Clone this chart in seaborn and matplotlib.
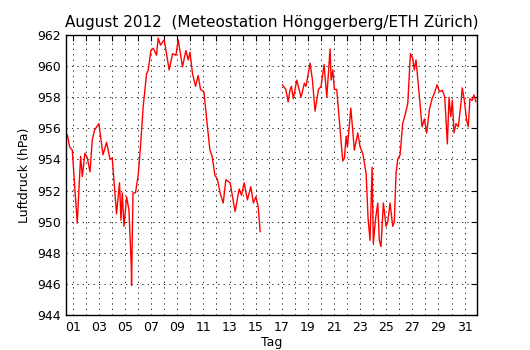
# -*- coding: utf-8 -*-
"""
Luftdruck August 2012, Meteostation Hönggerberg/ETH Zürich
"""

import numpy as np
import pandas as pd
import matplotlib
matplotlib.use("Agg")
import matplotlib.pyplot as plt
import seaborn as sns

# Daten (Tag als Bruchteil, Luftdruck in hPa)
tag_1 = [0.58, 0.76, 0.96, 1.34, 1.60, 1.73, 1.93, 2.11, 2.32, 2.49, 2.67, 3.00,
         3.31, 3.59, 3.85, 4.02, 4.35, 4.58, 4.69, 4.79, 4.92, 5.12, 5.30, 5.48,
         5.50, 5.61, 5.80, 6.01, 6.20, 6.39, 6.65, 6.78, 6.98, 7.16, 7.41, 7.54,
         7.72, 8.00, 8.38, 8.64, 8.90, 9.07, 9.40, 9.66, 9.84, 9.97, 10.17, 10.40,
         10.60, 10.78, 11.04, 11.31, 11.50, 11.67, 11.88, 12.08, 12.29, 12.52,
         12.72, 13.05, 13.23, 13.43, 13.74, 13.92, 14.12, 14.37, 14.63, 14.83,
         15.02, 15.19, 15.35]
druck_1 = [955.6, 954.8, 954.6, 949.9, 954.2, 952.9, 954.4, 954.1, 953.2, 955.25,
           955.9, 956.3, 954.3, 955.1, 954.0, 954.1, 950.5, 952.5, 950.1, 951.85,
           949.7, 951.6, 950.75, 947.1, 945.9, 951.85, 951.85, 953.0, 955.0, 957.4,
           959.5, 959.75, 961.0, 961.15, 960.7, 961.8, 961.35, 961.7, 959.75, 960.8,
           960.7, 961.7, 959.95, 961.0, 960.4, 960.9, 959.5, 958.7, 959.4, 958.5,
           958.35, 956.1, 954.6, 954.2, 953.0, 952.7, 951.8, 951.2, 952.7, 952.5,
           951.6, 950.65, 952.1, 951.7, 952.5, 951.4, 952.25, 951.2, 951.6, 951.0,
           949.35]

tag_2 = [17.05, 17.31, 17.49, 17.64, 17.74, 17.88, 18.15, 18.48, 18.73, 18.86,
         19.17, 19.35, 19.55, 19.81, 20.01, 20.24, 20.45, 20.57, 20.70, 20.78,
         20.91, 21.03, 21.21, 21.67, 21.80, 21.93, 22.03, 22.29, 22.56, 22.82,
         23.00, 23.20, 23.46, 23.61, 23.76, 23.92, 24.01, 24.17, 24.35, 24.47,
         24.60, 24.78, 24.99, 25.12, 25.29, 25.50, 25.62, 25.75, 25.88, 26.06,
         26.26, 26.44, 26.65, 26.85, 27.03, 27.15, 27.28, 27.53, 27.74, 27.92,
         28.10, 28.30, 28.51, 28.68, 28.89, 29.08, 29.30, 29.48, 29.68, 29.81,
         29.94, 30.06, 30.19, 30.34, 30.52, 30.72, 30.82, 30.98, 31.16, 31.28,
         31.41, 31.59, 31.72, 31.87]
druck_2 = [958.8, 958.5, 957.7, 958.5, 958.7, 957.9, 959.1, 958.0, 958.9, 958.7,
           960.2, 959.1, 957.1, 958.5, 958.7, 960.1, 958.0, 959.5, 961.1, 959.1,
           959.75, 958.5, 958.5, 953.9, 954.1, 955.5, 954.8, 957.3, 954.6, 955.7,
           954.8, 954.4, 953.1, 950.2, 948.8, 953.5, 948.6, 950.1, 951.2, 948.8,
           948.4, 951.2, 949.7, 950.0, 951.2, 949.7, 950.0, 953.1, 954.0, 954.3,
           956.3, 956.85, 957.6, 960.8, 960.5, 959.75, 960.4, 958.15, 956.1, 956.6,
           955.7, 957.2, 957.9, 958.25, 958.8, 958.35, 958.45, 958.0, 955.0, 958.0,
           956.75, 957.8, 955.7, 956.3, 956.1, 957.6, 958.6, 957.8, 956.5, 956.1,
           957.9, 957.8, 958.15, 957.7]

tage = list(range(1, 32))
tag_labels = [f"{d:02d}" if d % 2 == 1 else "" for d in tage]

df = pd.concat([
    pd.DataFrame({"Tag": tag_1, "Druck": druck_1, "Abschnitt": 1}),
    pd.DataFrame({"Tag": tag_2, "Druck": druck_2, "Abschnitt": 2}),
])

sns.set_style("white")
plt.rcParams["font.family"] = ["DejaVu Sans"]
plt.rcParams["text.color"] = "black"
plt.rcParams["axes.labelcolor"] = "black"
plt.rcParams["xtick.direction"] = "in"
plt.rcParams["ytick.direction"] = "in"

fig = plt.figure(figsize=(5.3, 3.5), dpi=100)
ax = fig.add_axes([0.125, 0.1, 0.775, 0.8])

sns.lineplot(data=df, x="Tag", y="Druck", units="Abschnitt", estimator=None,
             color="red", linewidth=1.0, ax=ax)

ax.set_xlim(0.5, 31.95)
ax.set_ylim(944, 962)
ax.set_xticks(tage)
ax.set_xticklabels(tag_labels)
ax.set_yticks(np.arange(944, 963, 2))
ax.tick_params(axis="both", which="both", direction="in", top=True, right=True,
               length=4, width=0.8, labelsize=9, colors="black", pad=4)
ax.grid(True, color="black", linestyle=(0, (1.5, 5)), linewidth=0.6)
for s in ax.spines.values():
    s.set_color("black")
    s.set_linewidth(1.0)

ax.set_xlabel("Tag", fontsize=9, labelpad=2, color="black")
ax.set_ylabel("Luftdruck (hPa)", fontsize=9, color="black")
ax.set_title("August 2012  (Meteostation Hönggerberg/ETH Zürich)", fontsize=11,
             color="black")

fig.savefig("out.png", dpi=100)
